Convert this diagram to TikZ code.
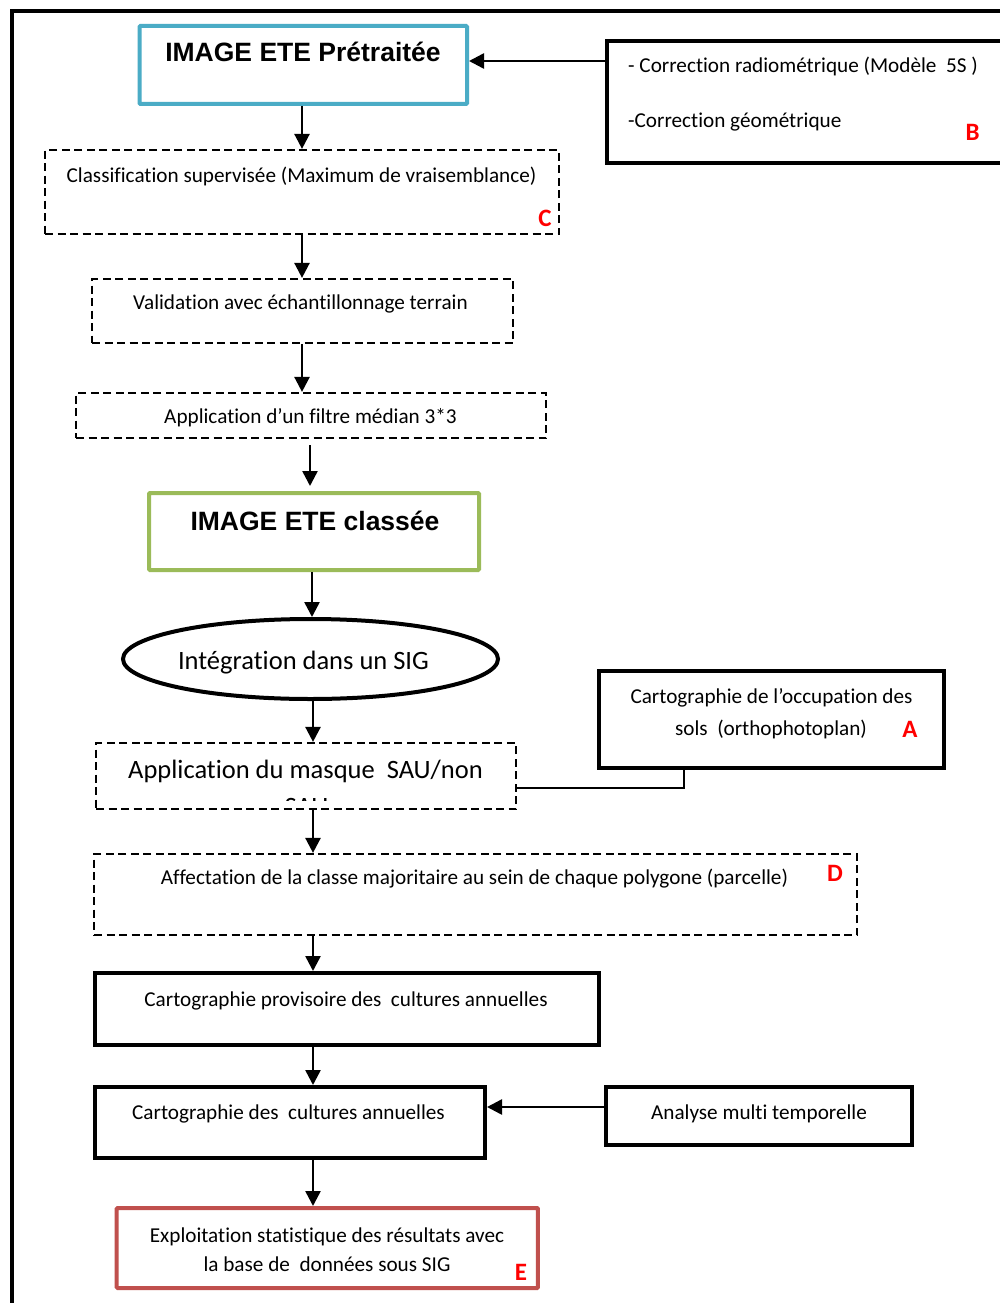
\documentclass[tikz,border=0pt]{standalone}
\usepackage{fontspec}
\setmainfont{Carlito}[Ligatures=NoCommon]
\newfontfamily\headfont{Liberation Sans}
\usetikzlibrary{arrows.meta,shapes.geometric}
\definecolor{bluebox}{RGB}{75,172,198}
\definecolor{greenbox}{RGB}{155,187,89}
\definecolor{redbox}{RGB}{192,80,77}
\definecolor{labred}{RGB}{255,0,0}
\begin{document}
\begin{tikzpicture}[x=1pt,y=-1pt,
  solidbox/.style={draw, rectangle, line width=4pt, inner sep=0pt},
  dashbox/.style={draw, rectangle, line width=2.2pt, dash pattern=on 8pt off 4.5pt, inner sep=0pt},
  txt/.style={font=\fontsize{21.2}{25}\selectfont, anchor=base, inner sep=0pt},
  bigtxt/.style={font=\fontsize{26.5}{31}\selectfont, anchor=base, inner sep=0pt},
  headtxt/.style={font=\headfont\bfseries\fontsize{26.5}{31}\selectfont, anchor=base, inner sep=0pt},
  lab/.style={text=labred, font=\bfseries\fontsize{25}{30}\selectfont, anchor=base, inner sep=0pt},
  arr/.style={line width=2.5pt, -{Triangle[length=15pt,width=15pt]}},
  link/.style={line width=2pt}]
\useasboundingbox (0,0) rectangle (1000,1303);
\clip (0,0) rectangle (1000,1303);
\fill[white] (0,0) rectangle (1000,1303);
% outer frame
\draw[line width=4pt] (1010,11) -- (11.5,11) -- (11.5,1310);

% boxes
\node[solidbox, draw=bluebox, rounded corners=1pt, minimum width=327.5pt, minimum height=78pt] (b1) at (303.25,65) {};
\node[solidbox, minimum width=403pt, minimum height=122pt] (corr) at (808.5,102) {};
\node[dashbox, minimum width=514pt, minimum height=84pt] (cls) at (302,192) {};
\node[dashbox, minimum width=421pt, minimum height=64pt] (val) at (302.5,311) {};
\node[dashbox, minimum width=470pt, minimum height=45pt] (flt) at (311,415.5) {};
\node[solidbox, draw=greenbox, rounded corners=1pt, minimum width=330pt, minimum height=77pt] (img2) at (314,531.5) {};
\node[draw, ellipse, line width=4pt, inner sep=0pt, minimum width=375pt, minimum height=80pt] (ell) at (310.5,659) {};
\node[dashbox, minimum width=420pt, minimum height=66pt] (mask) at (306,776) {};
\node[solidbox, minimum width=345pt, minimum height=97pt] (occ) at (771.5,719.5) {};
\node[dashbox, minimum width=763pt, minimum height=81pt] (aff) at (475.5,894.5) {};
\node[solidbox, minimum width=504pt, minimum height=72pt] (prov) at (347,1009) {};
\node[solidbox, minimum width=390pt, minimum height=71pt] (cult) at (290,1122.5) {};
\node[solidbox, minimum width=306pt, minimum height=58pt] (anal) at (759,1116) {};
\node[solidbox, draw=redbox, rounded corners=1pt, minimum width=421.3pt, minimum height=80pt] (expl) at (327.3,1248) {};

% texts
\node[headtxt] (t1) at (303,62) {IMAGE ETE Prétraitée};
\node[txt, anchor=base west] (tb1) at (628,73) {- Correction radiométrique (Modèle~~5S )};
\node[txt, anchor=base west] (tb2) at (628,128) {-Correction géométrique};
\node[lab] (lb) at (972.5,140) {B};
\node[txt] (tcls) at (301.5,182) {Classification supervisée (Maximum de vraisemblance)};
\node[lab] (lc) at (545,226) {C};
\node[txt] (tval) at (300.5,309) {Validation avec échantillonnage terrain};
\node[txt] (tflt) at (310.5,423) {Application d’un filtre médian 3*3};
\node[headtxt] (t2) at (315,530) {IMAGE ETE classée};
\node[bigtxt] (tell) at (303.5,669) {Intégration dans un SIG};
\node[bigtxt, anchor=base west] (tmask) at (128,778) {Application du masque~~SAU/non};
\begin{scope}
  \clip (100,747) rectangle (512,800);
  \node[bigtxt] (tsau) at (306.5,815) {SAU};
\end{scope}
\node[txt] (tocc1) at (771.5,703) {Cartographie de l’occupation des};
\node[txt] (tocc2) at (771,735) {sols~~(orthophotoplan)};
\node[lab] (la) at (910,737) {A};
\node[txt] (taff) at (474.5,884) {Affectation de la classe majoritaire au sein de chaque polygone (parcelle)};
\node[lab] (ld) at (835,881) {D};
\node[txt] (tprov) at (346,1006) {Cartographie provisoire des~~cultures annuelles};
\node[txt] (tcult) at (288.5,1119) {Cartographie des~~cultures annuelles};
\node[txt] (tanal) at (759,1119) {Analyse multi temporelle};
\node[txt] (te1) at (327,1242) {Exploitation statistique des résultats avec};
\node[txt] (te2) at (327,1271) {la base de~~données sous SIG};
\node[lab] (le) at (521,1280) {E};

% connectors
\coordinate (s1) at (302,0);
\coordinate (s2) at (310,0);
\coordinate (s3) at (312,0);
\coordinate (s4) at (313,0);
\coordinate (jn) at (684,788);
\draw[arr] (corr.west |- 0,61) -- (b1.east |- 0,61);
\draw[arr] (b1.south -| s1) -- (cls.north -| s1);
\draw[arr] (cls.south -| s1) -- (val.north -| s1);
\draw[arr] (val.south -| s1) -- (flt.north -| s1);
\draw[arr] ([yshift=-6pt]flt.south -| s2) -- ([yshift=5pt]img2.north -| s2);
\draw[arr] (img2.south -| s3) -- (ell.north -| s3);
\draw[arr] (ell.south -| s4) -- (mask.north -| s4);
\draw[link] (occ.south -| jn) -- (jn) -- (mask.east |- jn);
\draw[arr] (mask.south -| s4) -- (aff.north -| s4);
\draw[arr] (aff.south -| s4) -- (prov.north -| s4);
\draw[arr] (prov.south -| s4) -- (cult.north -| s4);
\draw[arr] (anal.west |- 0,1107) -- (cult.east |- 0,1107);
\draw[arr] (cult.south -| s4) -- (expl.north -| s4);
\end{tikzpicture}
\end{document}
